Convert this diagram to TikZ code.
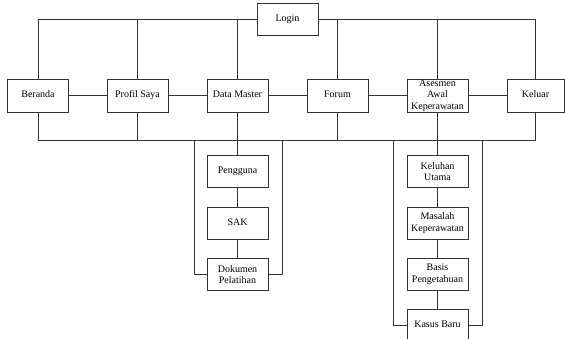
\documentclass[tikz,border=0pt]{standalone}
\usepackage{fontspec}
\setmainfont{Liberation Serif}
\begin{document}
\begin{tikzpicture}[x=1pt,y=-1pt,
  menu/.style={draw=black!80, line width=0.8pt, fill=white,
    minimum width=61pt, minimum height=33pt, inner sep=0.5pt,
    align=center, font=\fontsize{10}{11.5}\selectfont},
  oneline/.style={text height=7pt, text depth=2.2pt},
  link/.style={draw=black!80, line width=0.8pt}]
\useasboundingbox (0,0) rectangle (565,338);
\clip (0,0) rectangle (565,338);

% top level
\node[menu, oneline, minimum height=32pt] (login) at (287.5,19) {Login};

% main menu row
\node[menu, oneline] (beranda) at (38,95.5)    {Beranda};
\node[menu, oneline] (profil)  at (137.5,95.5) {Profil Saya};
\node[menu, oneline] (data)    at (237.5,95.5) {Data Master};
\node[menu, oneline] (forum)   at (337.5,95.5) {Forum};
\node[menu] (asesmen) at (437.5,95.5) {Asesmen\\Awal\\Keperawatan};
\node[menu, oneline, minimum width=57pt] (keluar) at (535.5,95.5) {Keluar};

% Data Master sub menu
\node[menu, oneline, minimum height=32pt] (pengguna) at (237.5,171.5) {Pengguna};
\node[menu, oneline, minimum height=32pt] (sak)      at (237.5,223)   {SAK};
\node[menu, minimum height=32pt] (dokumen)  at (237.5,274.5) {Dokumen\\Pelatihan};

% Asesmen sub menu
\node[menu, minimum height=32pt] (keluhan) at (437.5,171.5) {Keluhan\\Utama};
\node[menu, minimum height=32pt] (masalah) at (437.5,223)   {Masalah\\Keperawatan};
\node[menu, minimum height=32pt] (basis)   at (437.5,274.5) {Basis\\Pengetahuan};
\node[menu, oneline, minimum height=32pt] (kasus)   at (437.5,325)   {Kasus Baru};

% helper coordinates
\coordinate (bus) at (0,140);
\coordinate (dl) at (194,140);
\coordinate (dr) at (282,140);
\coordinate (al) at (393.5,140);
\coordinate (ar) at (482,140);

% upper bus from Login
\draw[link] (beranda.north) -- (beranda.north |- login.west) -- (login.west);
\draw[link] (login.east) -- (keluar.north |- login.east) -- (keluar.north);
\draw[link] (profil.north)  -- (profil.north |- login.west);
\draw[link] (data.north)    -- (data.north |- login.west);
\draw[link] (forum.north)   -- (forum.north |- login.east);
\draw[link] (asesmen.north) -- (asesmen.north |- login.east);

% links along the row
\draw[link] (beranda) -- (profil);
\draw[link] (profil) -- (data);
\draw[link] (data) -- (forum);
\draw[link] (forum) -- (asesmen);
\draw[link] (asesmen) -- (keluar);

% lower bus
\draw[link] (beranda.south) -- (beranda.south |- bus) -- (keluar.south |- bus) -- (keluar.south);
\draw[link] (profil.south) -- (profil.south |- bus);
\draw[link] (forum.south) -- (forum.south |- bus);

% Data Master column
\draw[link] (data) -- (pengguna);
\draw[link] (pengguna) -- (sak);
\draw[link] (sak) -- (dokumen);
\draw[link] (dokumen.west) -| (dl);
\draw[link] (dokumen.east) -| (dr);

% Asesmen column
\draw[link] (asesmen) -- (keluhan);
\draw[link] (keluhan) -- (masalah);
\draw[link] (masalah) -- (basis);
\draw[link] (basis) -- (kasus);
\draw[link] (kasus.west) -| (al);
\draw[link] (kasus.east) -| (ar);
\end{tikzpicture}
\end{document}
